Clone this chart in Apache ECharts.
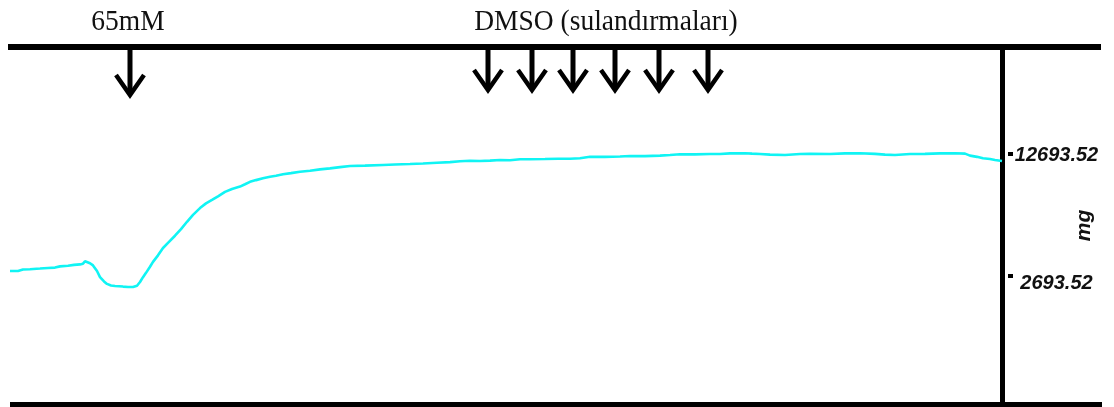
<!DOCTYPE html>
<html>
<head>
<meta charset="utf-8">
<title>Kasılma kaydı</title>
<script src="https://cdn.jsdelivr.net/npm/echarts@6/dist/echarts.min.js"></script>
<style>
  html, body { margin: 0; padding: 0; background: #fff; }
  #chart { width: 1114px; height: 407px; }
</style>
</head>
<body>
<div id="chart"></div>
<script>
// Recording time (s) and isometric tension (mg)
const timeSec = [
  0, 8, 13, 20, 30, 38, 45, 50, 58, 64, 70, 73, 75, 77, 80, 83, 87, 90, 94, 97,
  101, 105, 109, 113, 118, 123, 127, 130, 133, 136, 140, 143, 148, 153, 158, 165,
  171, 177, 183, 190, 196, 202, 208, 215, 222, 230, 235, 240, 246, 253, 260, 266,
  273, 281, 290, 300, 310, 320, 330, 340, 355, 373, 385, 400, 413, 427, 440, 450,
  460, 470, 480, 490, 500, 510, 520, 535, 548, 560, 570, 580, 595, 610, 620, 635,
  650, 660, 670, 685, 700, 710, 720, 735, 742, 750, 760, 775, 790, 800, 820, 835,
  850, 865, 875, 885, 900, 915, 930, 945, 955, 960, 967, 973, 980, 985, 992
];
const tensionMg = [
  3102, 3102, 3220, 3240, 3300, 3350, 3380, 3480, 3530, 3600, 3640, 3700, 3900, 3820, 3740, 3560, 3100, 2600, 2250, 2050,
  1920, 1880, 1860, 1830, 1800, 1790, 1900, 2200, 2600, 2950, 3450, 3850, 4380, 4980, 5400, 5980,
  6520, 7120, 7680, 8240, 8620, 8900, 9200, 9560, 9800, 9990, 10180, 10380, 10520, 10670, 10800, 10880,
  11000, 11090, 11210, 11290, 11400, 11480, 11580, 11670, 11700, 11760, 11800, 11840, 11880, 11940, 11990, 12060,
  12100, 12080, 12110, 12160, 12140, 12220, 12230, 12250, 12270, 12270, 12300, 12430, 12420, 12450, 12490, 12480,
  12520, 12570, 12630, 12620, 12650, 12650, 12700, 12710, 12680, 12650, 12600, 12570, 12650, 12660, 12650, 12700,
  12710, 12660, 12600, 12570, 12650, 12660, 12700, 12710, 12680, 12520, 12420, 12300, 12250, 12160, 12080
];

// Scale marks on the tension axis (mg)
const tensionTicks = [2693.52, 12693.52];

// Drug additions (s)
const kclTimes = [120];
const dmsoTimes = [478, 522, 563, 605, 649, 698];

// Annotation texts
const kclLabel = '65mM';
const dmsoLabel = 'DMSO (sulandırmaları)';
const unitLabel = 'mg';

// Axis span
const T_MAX = 992.5;
const Y_MIN = -7755;
const Y_MAX = 21387;

const trace = timeSec.map((t, i) => [t, tensionMg[i]]);

// Downward arrow drawn from the top rail at a given time
function arrowRenderer(depth) {
  return function (params, api) {
    const p = api.coord([api.value(0), Y_MAX]);
    const x = p[0];
    const top = p[1];
    const tip = top + depth;
    return {
      type: 'group',
      children: [
        {
          type: 'line',
          shape: { x1: x, y1: top, x2: x, y2: tip - 3 },
          style: { stroke: '#000', lineWidth: 5 }
        },
        {
          type: 'polyline',
          shape: { points: [[x - 14, tip - 22], [x, tip - 2], [x + 14, tip - 22]] },
          style: { stroke: '#000', lineWidth: 4.5, fill: null, lineJoin: 'miter', miterLimit: 10 }
        }
      ]
    };
  };
}

const chart = echarts.init(document.getElementById('chart'), null, { renderer: 'canvas' });

const titleFont = { fontFamily: 'Liberation Serif', fontSize: 27.5, fill: '#111', textAlign: 'center', textVerticalAlign: 'middle' };

chart.setOption({
  backgroundColor: '#fff',
  animation: false,
  grid: { left: 10, right: 111.5, top: 47, bottom: 3, containLabel: false, outerBoundsMode: 'none' },
  xAxis: { type: 'value', min: 0, max: T_MAX, show: false },
  yAxis: {
    type: 'value',
    position: 'right',
    min: Y_MIN,
    max: Y_MAX,
    name: unitLabel,
    nameLocation: 'middle',
    nameRotate: 90,
    nameGap: 71,
    nameMoveOverlap: false,
    nameTextStyle: {
      fontFamily: 'Liberation Sans', fontWeight: 'bold', fontStyle: 'italic', fontSize: 21, color: '#111'
    },
    splitLine: { show: false },
    axisLine: { show: true, onZero: false, lineStyle: { color: '#000', width: 5 } },
    axisTick: {
      show: true,
      customValues: tensionTicks,
      length: 11,
      lineStyle: { color: '#000', width: 4, type: [0, 5.5, 5, 20] }
    },
    axisLabel: {
      show: true,
      customValues: tensionTicks,
      margin: 54,
      align: 'center',
      formatter: v => (v > 10000 ? '{a|' : '{b|') + v.toFixed(2) + '}',
      rich: {
        a: {
          fontFamily: 'Liberation Sans', fontWeight: 'bold', fontStyle: 'italic', fontSize: 20,
          color: '#111', padding: [3, 0, 0, 0]
        },
        b: {
          fontFamily: 'Liberation Sans', fontWeight: 'bold', fontStyle: 'italic', fontSize: 20,
          color: '#111', padding: [14, 0, 0, 0]
        }
      }
    }
  },
  series: [
    {
      type: 'line',
      data: trace,
      showSymbol: false,
      symbol: 'none',
      lineStyle: { color: '#10f4f4', width: 2.6 },
      z: 3
    },
    {
      type: 'custom',
      data: kclTimes.map(t => [t, Y_MAX]),
      renderItem: arrowRenderer(50),
      clip: false,
      z: 5
    },
    {
      type: 'custom',
      data: dmsoTimes.map(t => [t, Y_MAX]),
      renderItem: arrowRenderer(45),
      clip: false,
      z: 5
    }
  ],
  graphic: [
    // top and bottom rails of the record
    { type: 'line', shape: { x1: 8, y1: 47, x2: 1101, y2: 47 }, style: { stroke: '#000', lineWidth: 6 }, z: 4 },
    { type: 'line', shape: { x1: 10, y1: 404.5, x2: 1102, y2: 404.5 }, style: { stroke: '#000', lineWidth: 5 }, z: 4 },
    // addition labels above the rail
    { type: 'text', x: 128, y: 22, scaleY: 1.1, style: Object.assign({ text: kclLabel }, titleFont) },
    { type: 'text', x: 606, y: 22, scaleY: 1.1, style: Object.assign({ text: dmsoLabel }, titleFont) }
  ]
});
</script>
</body>
</html>
